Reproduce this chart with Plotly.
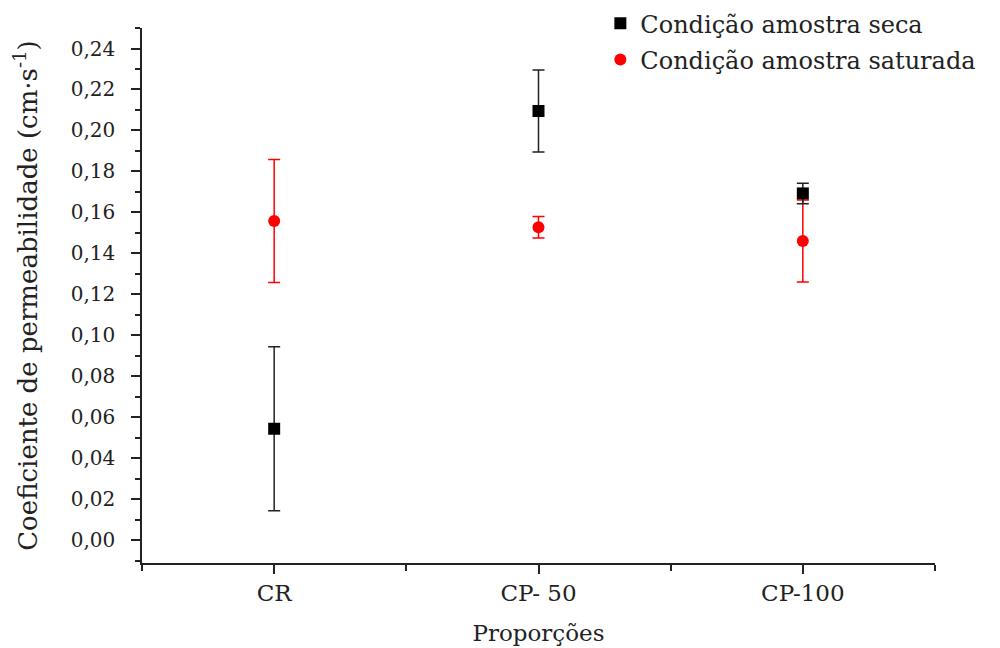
import plotly.graph_objects as go

categories = ["CR", "CP- 50", "CP-100"]
seca_values = [0.0545, 0.2095, 0.1693]
seca_errors = [0.040, 0.020, 0.005]
sat_values = [0.1558, 0.1528, 0.1461]
sat_errors = [0.030, 0.0052, 0.020]
y_ticks = [0.0, 0.02, 0.04, 0.06, 0.08, 0.10, 0.12, 0.14, 0.16, 0.18, 0.20, 0.22, 0.24]

FONT = "DejaVu Serif"
x_idx = list(range(len(categories)))

fig = go.Figure()
fig.add_trace(go.Scatter(
    x=x_idx, y=sat_values, mode="markers", name="Condição amostra saturada",
    legendgroup="sat", legendrank=2,
    marker=dict(symbol="circle", size=12, color="#ff0000"),
    error_y=dict(type="data", array=sat_errors, color="#ff0000", thickness=1.5, width=6),
))
fig.add_trace(go.Scatter(
    x=x_idx, y=seca_values, mode="markers", name="Condição amostra seca",
    legendgroup="seca", legendrank=1,
    marker=dict(symbol="square", size=12, color="#000000"),
    error_y=dict(type="data", array=seca_errors, color="#222222", thickness=1.5, width=6),
))

fig.update_layout(
    width=1000, height=648,
    paper_bgcolor="white", plot_bgcolor="white",
    margin=dict(l=142, r=65, t=28, b=85, autoexpand=False),
    separators=", ",
    font=dict(family=FONT, size=17, color="#222222"),
    showlegend=True,
    legend=dict(x=0.578, y=1.05, xref="paper", yref="paper", xanchor="left", yanchor="top",
                traceorder="grouped", font=dict(family=FONT, size=24, color="#222222"),
                bgcolor="rgba(0,0,0,0)", itemsizing="constant", tracegroupgap=2),
)
fig.update_xaxes(
    range=[-0.5, 2.5], tickvals=x_idx, ticktext=categories,
    showline=True, linecolor="#222222", linewidth=1.5,
    ticks="outside", ticklen=9, tickwidth=1.5, tickcolor="#222222",
    minor=dict(tickvals=[-0.5, 0.5, 1.5, 2.5], ticks="outside", ticklen=6, tickwidth=1.5, tickcolor="#222222"),
    showgrid=False, zeroline=False,
    title=dict(text="Proporções", font=dict(family=FONT, size=23), standoff=20),
    tickfont=dict(family=FONT, size=23),
)
fig.update_yaxes(
    range=[-0.011, 0.25], tickvals=y_ticks, tickformat=".2f",
    showline=True, linecolor="#222222", linewidth=1.5,
    ticks="outside", ticklen=9, tickwidth=1.5, tickcolor="#222222",
    minor=dict(dtick=0.01, tick0=0, ticks="outside", ticklen=5, tickwidth=1.5, tickcolor="#222222"),
    showgrid=False, zeroline=False, ticklabelstandoff=12,
    title=dict(text="Coeficiente de permeabilidade (cm·s<sup>-1</sup>)", font=dict(family=FONT, size=26), standoff=26),
    tickfont=dict(family=FONT, size=20),
)

fig.write_html("out.html")
